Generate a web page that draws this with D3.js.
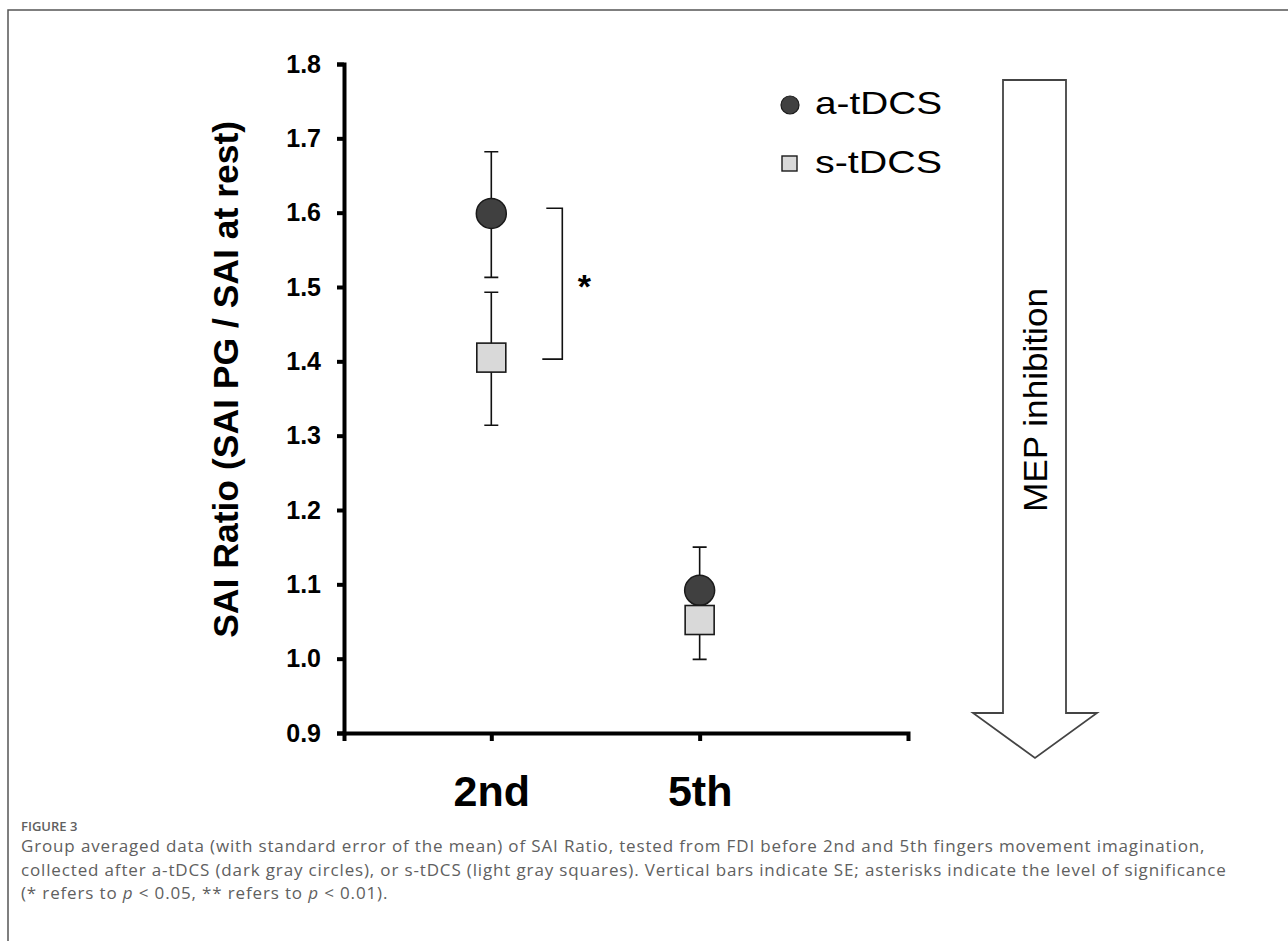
<!DOCTYPE html>
<html>
<head>
<meta charset="utf-8">
<script src="https://cdn.jsdelivr.net/npm/d3@7"></script>
<style>
  body { margin: 0; background: #fff; }
  svg { display: block; }
  .chart text { font-family: "Liberation Sans", Arial, sans-serif; }
  .caption text { font-family: "Open Sans", sans-serif; fill: #606060; }
</style>
</head>
<body>
<svg id="fig" width="1288" height="941"></svg>
<script>
// SAI ratio figure, 2nd vs 5th finger, a-tDCS vs s-tDCS

// data
const fingers = ["2nd", "5th"];
const fingerPos = [1, 2];
const aMean  = [1.599, 1.092];
const aUpper = [1.682, 1.150];
const aLower = [1.513, 1.034];
const sMean  = [1.405, 1.052];
const sUpper = [1.493, 1.105];
const sLower = [1.314, 0.999];
const yTicks = [0.9, 1.0, 1.1, 1.2, 1.3, 1.4, 1.5, 1.6, 1.7, 1.8];
const legendLabels = ["a-tDCS", "s-tDCS"];
const sigTop = [1.606];
const sigBottom = [1.403];
const sigLabel = ["*"];
const yTitle = "SAI Ratio (SAI PG / SAI at rest)";
const arrowLabel = "MEP inhibition";
const captionLines = [
    "Group averaged data (with standard error of the mean) of SAI Ratio, tested from FDI before 2nd and 5th fingers movement imagination,",
    "collected after a-tDCS (dark gray circles), or s-tDCS (light gray squares). Vertical bars indicate SE; asterisks indicate the level of significance"
];

// globals
var svg, x, y;

class SaiPlot {

    constructor(svg_id) {
        svg = d3.select("#" + svg_id);

        // frame of the figure box (top + left only)
        svg.append("path")
            .attr("d", "M8,941V10H1288")
            .attr("fill", "none")
            .attr("stroke", "#555")
            .attr("stroke-width", 1.5);

        this.g = svg.append("g").attr("class", "chart");

        y = d3.scaleLinear().domain([0.9, 1.8]).range([733, 64]);
        x = d3.scaleLinear().domain([0.293, 3.0]).range([344, 908]);

        this.drawAxes();
        this.drawPoints();
        this.drawLegend();
        this.drawArrow();
        this.drawCaption();
    }

    drawAxes() {
        const g = this.g;
        const yAxis = g.append("g")
            .attr("transform", "translate(" + x.range()[0] + ",0)")
            .call(d3.axisLeft(y).tickValues(yTicks).tickFormat(d3.format(".1f"))
                .tickSize(7).tickSizeOuter(7).tickPadding(16));
        yAxis.select(".domain").attr("stroke-width", 4);
        yAxis.selectAll(".tick line").attr("stroke-width", 4);
        yAxis.selectAll(".tick text")
            .style("font-size", "25px").style("font-weight", "bold").attr("fill", "#000");

        const xAxis = g.append("g")
            .attr("transform", "translate(0," + y.range()[0] + ")")
            .call(d3.axisBottom(x).tickValues(fingerPos).tickFormat((d, i) => fingers[i])
                .tickSize(8).tickSizeOuter(8).tickPadding(34));
        xAxis.select(".domain").attr("stroke-width", 4);
        xAxis.selectAll(".tick line").attr("stroke-width", 4);
        xAxis.selectAll(".tick text")
            .style("font-size", "43px").style("font-weight", "bold").attr("fill", "#000");

        // axis title
        g.append("text")
            .attr("transform", "translate(238," + ((y(1.8) + y(1.0)) / 2 + 18) + ") rotate(-90)")
            .attr("text-anchor", "middle")
            .attr("textLength", 517)
            .attr("lengthAdjust", "spacingAndGlyphs")
            .style("font-size", "35px").style("font-weight", "bold")
            .text(yTitle);
    }

    drawPoints() {
        const g = this.g;
        let rows = [];
        for (var i = 0; i < fingerPos.length; i++) {
            rows.push({pos: fingerPos[i], grp: "a", m: aMean[i], hi: aUpper[i], lo: aLower[i]});
            rows.push({pos: fingerPos[i], grp: "s", m: sMean[i], hi: sUpper[i], lo: sLower[i]});
        }
        const cap = 7;

        // error bars first, markers go on top
        const eb = g.append("g").attr("stroke", "#111").attr("stroke-width", 1.6).attr("fill", "none");
        eb.selectAll("path").data(rows).enter().append("path")
            .attr("d", d => {
                const cx = x(d.pos);
                return "M" + cx + "," + y(d.lo) + "V" + y(d.hi) +
                    "M" + (cx - cap) + "," + y(d.hi) + "H" + (cx + cap) +
                    "M" + (cx - cap) + "," + y(d.lo) + "H" + (cx + cap);
            });

        g.selectAll("circle.a").data(rows.filter(d => d.grp == "a")).enter().append("circle")
            .attr("class", "a")
            .attr("cx", d => x(d.pos)).attr("cy", d => y(d.m)).attr("r", 15)
            .attr("fill", "#404040").attr("stroke", "#1a1a1a").attr("stroke-width", 1.5);

        g.selectAll("rect.s").data(rows.filter(d => d.grp == "s")).enter().append("rect")
            .attr("class", "s")
            .attr("x", d => x(d.pos) - 14.5).attr("y", d => y(d.m) - 14.5)
            .attr("width", 29).attr("height", 29)
            .attr("fill", "#d9d9d9").attr("stroke", "#1a1a1a").attr("stroke-width", 1.6);

        // significance bracket
        for (var k = 0; k < sigTop.length; k++) {
            const bx = x(fingerPos[k]) + 71;
            g.append("path")
                .attr("d", "M" + (bx - 16) + "," + y(sigTop[k]) + "H" + bx + "V" + y(sigBottom[k]) + "H" + (bx - 20))
                .attr("fill", "none").attr("stroke", "#111").attr("stroke-width", 1.6);
            g.append("text")
                .attr("x", bx + 22).attr("y", (y(sigTop[k]) + y(sigBottom[k])) / 2 + 14)
                .attr("text-anchor", "middle")
                .style("font-size", "34px").style("font-weight", "bold")
                .text(sigLabel[k]);
        }
    }

    drawLegend() {
        const lg = this.g.append("g");
        lg.append("circle").attr("cx", 790).attr("cy", 105).attr("r", 9)
            .attr("fill", "#404040").attr("stroke", "#1a1a1a").attr("stroke-width", 1.2);
        lg.append("rect").attr("x", 782).attr("y", 156).attr("width", 15).attr("height", 15)
            .attr("fill", "#d9d9d9").attr("stroke", "#1a1a1a").attr("stroke-width", 1.4);
        lg.selectAll("text").data(legendLabels).enter().append("text")
            .attr("x", 815).attr("y", (d, i) => 114 + i * 59)
            .attr("textLength", 127).attr("lengthAdjust", "spacingAndGlyphs")
            .style("font-size", "32px")
            .text(d => d);
    }

    drawArrow() {
        const pts = [[1003, 80], [1066, 80], [1066, 713], [1097, 713], [1035, 758], [973, 713], [1003, 713]];
        this.g.append("path")
            .attr("d", d3.line()(pts) + "Z")
            .attr("fill", "#fff").attr("stroke", "#444").attr("stroke-width", 1.8)
            .attr("stroke-linejoin", "miter");
        this.g.append("text")
            .attr("transform", "translate(1047,400) rotate(-90)")
            .attr("text-anchor", "middle")
            .attr("textLength", 224).attr("lengthAdjust", "spacingAndGlyphs")
            .style("font-size", "33px")
            .text(arrowLabel);
    }

    drawCaption() {
        const c = svg.append("g").attr("class", "caption");
        c.append("text").attr("x", 21).attr("y", 831)
            .style("font-size", "13px").style("font-weight", "600")
            .text("FIGURE 3");
        c.selectAll("text.line").data(captionLines).enter().append("text")
            .attr("class", "line")
            .attr("x", 21).attr("y", (d, i) => 852 + i * 23.5)
            .style("font-size", "17px").style("letter-spacing", "0.85px")
            .text(d => d);
        const last = c.append("text").attr("x", 21).attr("y", 899)
            .style("font-size", "17px").style("letter-spacing", "0.85px");
        last.append("tspan").text("(* refers to ");
        last.append("tspan").style("font-style", "italic").text("p");
        last.append("tspan").text(" < 0.05, ** refers to ");
        last.append("tspan").style("font-style", "italic").text("p");
        last.append("tspan").text(" < 0.01).");
    }
}


// Boiler code to wait for page to completely load DOM
function whenDocumentLoaded(action) {
    if (document.readyState === "loading") {
        document.addEventListener("DOMContentLoaded", action);
    } else {
        action();
    }
}

whenDocumentLoaded(() => {
    plot_object = new SaiPlot("fig");
});
</script>
</body>
</html>
